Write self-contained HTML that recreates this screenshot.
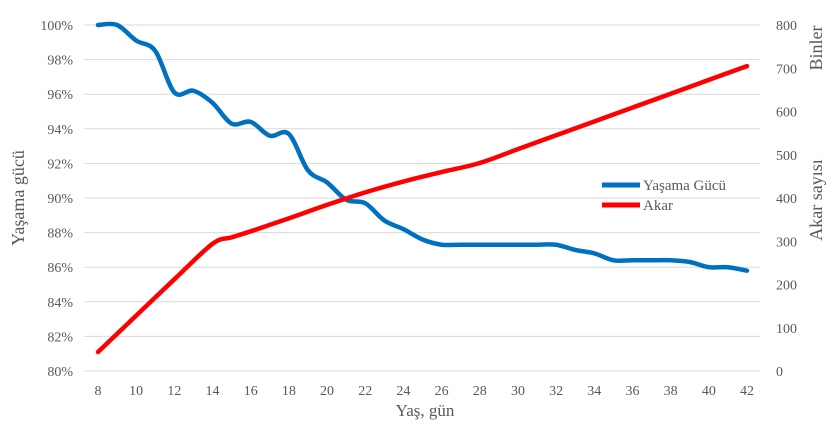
<!DOCTYPE html>
<html><head><meta charset="utf-8"><style>
body{margin:0;background:#fff}
svg text{font-family:"Liberation Serif",serif;fill:#595959}
</style></head><body>
<svg id="c" width="835" height="421"></svg>
<script>
const days=[8,9,10,11,12,13,14,15,16,17,18,19,20,21,22,23,24,25,26,27,28,29,30,31,32,33,34,35,36,37,38,39,40,41,42];
const survival=[100,100,99.1,98.5,96.1,96.2,95.5,94.3,94.4,93.6,93.7,91.6,90.9,89.9,89.7,88.7,88.2,87.6,87.3,87.3,87.3,87.3,87.3,87.3,87.3,87.0,86.8,86.4,86.4,86.4,86.4,86.3,86.0,86.0,85.8];
const akarDays=[8,10,12,14,15,16,18,20,22,24,26,28,30,32,34,36,38,40,42];
const akar=[44,128,212,294,309,323,353,384,413,438,460,481,513,545,577,609,641,673,705];
const xTicks=[8,10,12,14,16,18,20,22,24,26,28,30,32,34,36,38,40,42];
const leftTicks=[80,82,84,86,88,90,92,94,96,98,100];
const rightTicks=[0,100,200,300,400,500,600,700,800];
const NS="http://www.w3.org/2000/svg",svg=document.getElementById('c');
const X=d=>98+(d-8)*(747-98)/34;
const YL=v=>371-(v-80)*346/20;
const YR=v=>371-v*346/800;
function mk(t,a,p){const e=document.createElementNS(NS,t);for(const k in a)e.setAttribute(k,a[k]);(p||svg).appendChild(e);return e;}
leftTicks.forEach(v=>{
 const g=mk('line',{x1:84,x2:760,y1:YL(v),y2:YL(v),stroke:'#d9d9d9','stroke-width':1});
 
 
 const t=mk('text',{x:73,y:YL(v)+5,'text-anchor':'end','font-size':14});t.textContent=v+'%';
 
 
});
rightTicks.forEach(v=>{
 const t=mk('text',{x:776,y:YR(v)+5,'text-anchor':'start','font-size':14});t.textContent=v;
 
 
});
xTicks.forEach(d=>{
 const t=mk('text',{x:X(d),y:395,'text-anchor':'middle','font-size':14});t.textContent=d;
 
 
});
function smooth(pts){let s=`M${pts[0][0]},${pts[0][1]}`;for(let i=0;i<pts.length-1;i++){const p0=pts[i-1]||pts[i],p1=pts[i],p2=pts[i+1],p3=pts[i+2]||p2;s+=` C${p1[0]+(p2[0]-p0[0])/6},${p1[1]+(p2[1]-p0[1])/6} ${p2[0]-(p3[0]-p1[0])/6},${p2[1]-(p3[1]-p1[1])/6} ${p2[0]},${p2[1]}`;}return s;}
const blue=mk('path',{d:smooth(days.map((d,i)=>[X(d),YL(survival[i])])),fill:'none',stroke:'#0070c0','stroke-width':4.5,'stroke-linecap':'round'});


const red=mk('path',{d:smooth(akarDays.map((d,i)=>[X(d),YR(akar[i])])),fill:'none',stroke:'#ff0000','stroke-width':4.5,'stroke-linecap':'round'});


</script>
<svg width="835" height="421" style="position:absolute;left:0;top:0">
<g>
<line x1="602" y1="185" x2="640" y2="185" stroke="#0070c0" stroke-width="5"/>
<text x="643" y="190" font-size="15">Yaşama Gücü</text>
<line x1="602" y1="205" x2="640" y2="205" stroke="#ff0000" stroke-width="5"/>
<text x="643" y="210" font-size="15">Akar</text>
</g>
<text transform="translate(24,198) rotate(-90)" text-anchor="middle" font-size="18">Yaşama gücü</text>
<text transform="translate(822,200) rotate(-90)" text-anchor="middle" font-size="18">Akar sayısı</text>
<text transform="translate(822,48) rotate(-90)" text-anchor="middle" font-size="18">Binler</text>
<text x="425" y="416" text-anchor="middle" font-size="17">Yaş, gün</text>
</svg>
</body></html>
